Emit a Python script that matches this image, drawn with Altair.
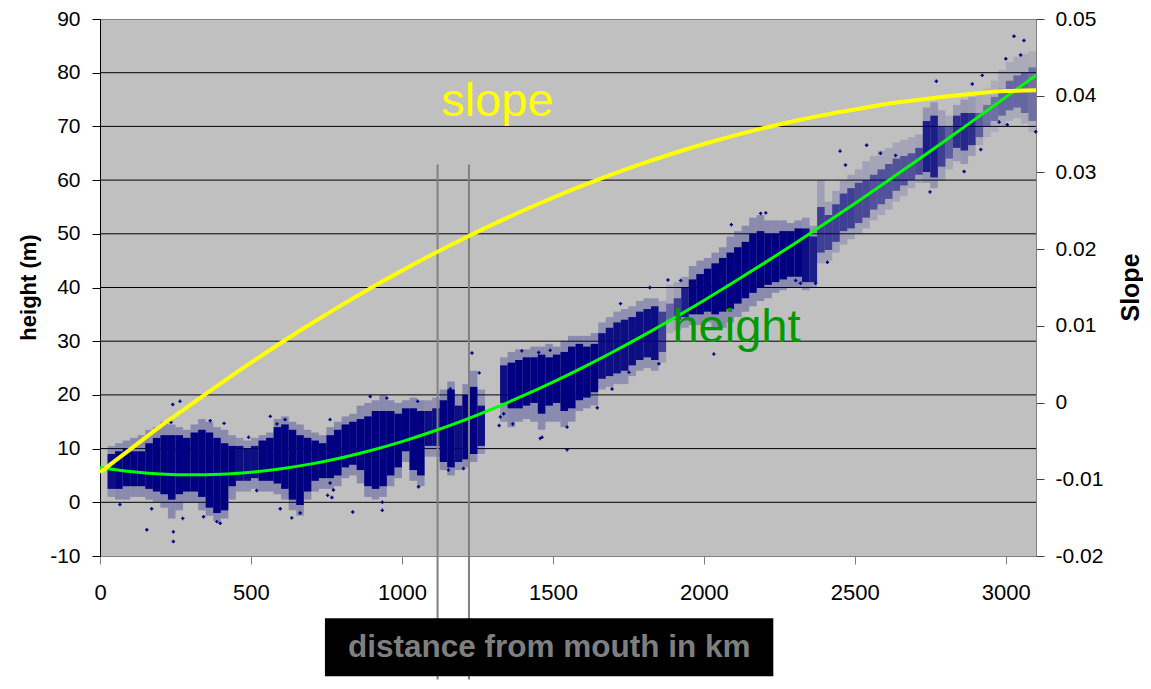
import altair as alt
import pandas as pd

FONT = "Liberation Sans"
NAVY = "#000080"

# ---- scatter cloud, read as 25-km bins (bin start in km) ----
bin_start = list(range(25, 3100, 25))
core_lo = [2.5, 2.5, 3.0, 3.0, 3.0, 2.5, 2.0, 1.5, 0.5, 1.5,
           2.0, 2.0, 1.0, -1.0, -2.0, -1.5, 3.0, 4.0, 4.0, 4.5,
           4.0, 4.0, 3.5, 2.5, 0.5, -0.5, 2.0, 4.0, 4.5, 4.5,
           5.0, 6.5, 7.0, 6.0, 3.0, 2.5, 3.0, 5.0, 6.5, 9.5,
           6.0, 5.0, 10.5, 10.5, 7.5, 6.5, 7.5, 8.0, 9.0, 10.5,
           None, None, 18.5, 17.5, 17.5, 18.0, 18.5, 16.5, 18.0, 18.5,
           17.0, 17.5, 19.0, 19.5, 20.5, 23.0, 23.5, 24.0, 24.5, 25.5,
           26.5, 27.0, 26.5, 28.0, 34.0, 34.0, 34.5, 35.0, 35.0, 35.5,
           35.0, 35.5, 36.0, 37.0, 38.0, 39.0, 40.0, 40.5, 41.0, 41.5,
           42.0, 42.0, 41.0, 41.0, 46.5, 47.0, 48.5, 50.5, 51.0, 52.0,
           53.0, 54.5, 55.5, 56.5, 58.0, 59.0, 60.0, 61.0, 61.5, 60.5,
           62.5, 64.0, 66.0, 65.5, 66.5, 68.0, 70.0, 71.0, 72.0, 73.0,
           73.5, 72.5, 71.0]
core_hi = [9.0, 9.5, 10.0, 9.5, 9.5, 11.0, 12.0, 12.5, 12.5, 12.5,
           12.0, 13.0, 13.5, 13.0, 12.0, 11.0, 10.5, 10.5, 10.0, 10.5,
           11.5, 12.0, 14.0, 14.5, 13.5, 12.5, 12.0, 11.5, 11.0, 12.5,
           13.5, 14.5, 15.0, 15.5, 16.0, 17.0, 17.0, 17.0, 16.5, 17.5,
           17.5, 17.0, 17.0, 17.5, 19.0, 21.0, 18.0, 20.0, 21.5, 18.0,
           None, None, 25.5, 26.0, 26.5, 27.0, 27.0, 27.5, 27.0, 27.5,
           28.0, 29.0, 29.5, 29.0, 29.5, 31.5, 32.5, 33.5, 34.0, 34.5,
           35.5, 36.0, 36.5, 35.5, 37.0, 38.0, 40.0, 41.5, 42.5, 43.5,
           44.5, 45.5, 46.5, 47.5, 48.5, 50.0, 50.5, 50.0, 50.0, 50.5,
           50.5, 51.0, 51.0, 49.5, 55.0, 53.5, 55.5, 57.5, 58.5, 59.5,
           60.0, 61.0, 62.0, 63.0, 64.0, 64.5, 65.0, 66.0, 71.0, 72.0,
           70.0, 70.0, 72.0, 72.5, 72.5, 72.5, 74.0, 75.5, 77.0, 78.5,
           79.5, 80.0, 81.0]
out_lo = [1.0, 0.5, 0.5, 1.0, 1.0, 0.5, 0.0, -1.0, -3.0, -1.5,
          0.0, 0.0, -1.5, -2.5, -3.5, -3.0, 0.5, 2.0, 2.0, 2.5,
          2.0, 2.0, 1.5, 0.5, -1.5, -2.5, 0.5, 2.0, 2.5, 2.5,
          3.0, 4.5, 5.0, 3.5, 1.0, 0.5, 1.0, 3.0, 4.5, 7.5,
          4.0, 3.0, 8.5, 8.5, 6.0, 5.0, 6.0, 6.5, 7.5, 9.0,
          None, None, 15.0, 14.0, 15.0, 15.5, 15.0, 13.5, 15.0, 15.0,
          14.0, 15.0, 17.0, 17.5, 18.0, 21.0, 21.5, 22.0, 22.0, 23.5,
          24.5, 25.0, 24.5, 26.0, 31.5, 32.0, 32.5, 33.0, 33.0, 33.5,
          32.5, 32.5, 33.5, 34.5, 35.5, 36.5, 37.5, 38.0, 39.0, 39.5,
          40.0, 40.0, 39.5, 40.0, 44.5, 45.0, 46.5, 48.0, 49.0, 50.0,
          51.0, 52.5, 53.5, 54.5, 56.0, 57.0, 58.5, 59.5, 59.5, 58.5,
          60.0, 62.0, 63.5, 63.0, 64.5, 66.5, 68.0, 69.0, 70.0, 71.0,
          71.5, 70.5, 69.0]
out_hi = [10.5, 11.0, 11.5, 12.0, 12.5, 13.5, 14.0, 15.0, 14.5, 14.0,
          13.5, 14.5, 15.5, 15.0, 14.0, 13.5, 12.5, 12.0, 11.5, 12.0,
          12.5, 13.0, 15.5, 16.0, 15.0, 14.5, 13.5, 13.0, 12.5, 14.0,
          15.0, 16.0, 16.5, 18.0, 18.5, 19.0, 20.0, 19.0, 18.5, 19.0,
          19.5, 19.0, 19.0, 19.5, 21.0, 22.5, 20.0, 22.0, 24.5, 21.0,
          None, None, 27.0, 28.0, 28.5, 28.5, 29.0, 29.0, 29.5, 29.0,
          30.0, 31.0, 31.0, 31.0, 31.5, 33.5, 34.5, 35.5, 36.0, 36.5,
          37.5, 38.0, 38.0, 37.5, 40.5, 41.0, 42.0, 44.0, 45.0, 45.5,
          46.5, 47.5, 49.5, 50.5, 51.5, 53.0, 53.5, 52.5, 52.5, 52.5,
          52.0, 52.5, 53.0, 51.5, 60.0, 56.0, 58.0, 60.0, 61.0, 62.0,
          63.5, 64.5, 65.5, 66.0, 67.0, 67.5, 68.0, 68.5, 73.5, 74.5,
          73.0, 72.0, 74.0, 75.0, 75.5, 76.0, 77.0, 78.5, 80.5, 82.0,
          83.0, 83.5, 84.0]
density = [0.9, 1, 1, 1, 1, 1, 1, 1, 1, 1,
           1, 1, 1, 1, 1, 1, 1, 0.9, 0.9, 0.9,
           1, 1, 1, 1, 1, 1, 1, 1, 1, 1,
           1, 1, 1, 1, 1, 1, 1, 1, 1, 1,
           1, 1, 0.9, 0.9, 1, 1, 0.9, 1, 1, 0.9,
           None, None, 0.9, 1, 1, 1, 1, 1, 1, 1,
           1, 1, 1, 1, 1, 0.9, 0.9, 0.9, 0.9, 0.9,
           0.9, 0.9, 0.9, 0.6, 0.4, 0.6, 0.8, 1, 1, 1,
           1, 1, 1, 1, 1, 1, 1, 1, 1, 1,
           1, 1, 0.9, 0.8, 0.6, 0.6, 0.6, 0.6, 0.6, 0.55,
           0.55, 0.5, 0.5, 0.5, 0.5, 0.5, 0.5, 0.55, 0.8, 0.8,
           0.6, 0.45, 0.7, 0.75, 0.7, 0.45, 0.35, 0.35, 0.4, 0.4,
           0.4, 0.4, 0.35]

# ---- isolated scatter points (km, height m) ----
pt_km = [241, 265, 235, 155, 243, 243, 171, 66, 343, 398, 365, 411, 564, 586,
         613, 762, 597, 635, 663, 754, 768, 274, 387, 492, 519,
         762, 837, 935, 935, 1232, 1256, 1160, 895, 950, 1052, 1322, 1326,
         1337, 1397, 1453, 1491, 1464, 1367, 1547, 1154, 1204, 1055, 773, 1458,
         1547, 1647, 1696, 1752, 1821, 1881, 1923, 2033, 2091, 2188, 2205,
         2304, 1851, 1724,
         3027, 3060, 3000, 3049, 2922, 2770, 2889, 2749, 2862, 2409, 2370,
         2320, 2469, 2451, 2539, 2585, 2635, 2978, 3099, 3005, 2917]
pt_h = [18.2, 18.8, 14.9, -5.1, -5.5, -7.3, -1.2, -0.4, -2.7, -3.9, 15.2, 14.7, 16.0, 14.6,
        15.4, 15.4, -1.2, -2.9, -2.0, 1.3, 0.9, -3.0, -3.6, 12.1, 2.2,
        3.6, -1.8, -1.5, 0.0, 27.8, 24.1, 21.1, 19.7, 19.4, 18.8, 14.3, 15.9,
        16.5, 28.2, 27.9, 28.3, 12.1, 14.6, 9.8, 6.0, 6.3, 2.9, 2.3, 11.9,
        14.0, 17.6, 21.1, 24.2, 40.0, 41.4, 41.3, 27.6, 51.7, 53.8, 53.9,
        41.3, 25.8, 37.0,
        86.8, 86.0, 82.6, 83.3, 79.5, 78.4, 77.9, 57.8, 61.6, 44.7, 40.8,
        40.8, 62.8, 65.4, 66.5, 65.0, 64.6, 70.8, 69.0, 70.3, 65.7]

# ---- fitted curves ----
fit_km = [0, 100, 200, 300, 400, 500, 600, 700, 800, 900, 1000, 1100, 1200, 1300,
          1400, 1500, 1600, 1700, 1800, 1900, 2000, 2100, 2200, 2300, 2400, 2500,
          2600, 2700, 2800, 2900, 3000, 3100]
height_fit = [6.5, 5.74, 5.28, 5.11, 5.22, 5.61, 6.26, 7.16, 8.31, 9.70, 11.31, 13.13,
              15.16, 17.39, 19.80, 22.38, 25.13, 28.04, 31.09, 34.27, 37.58, 41.01,
              44.54, 48.16, 51.87, 55.66, 59.51, 63.43, 67.39, 71.40, 75.45, 79.51]
slope_fit = [-0.0091, -0.0061, -0.0031, -0.0003, 0.0025, 0.0052, 0.0078, 0.0103,
             0.0127, 0.0150, 0.0172, 0.0193, 0.0213, 0.0232, 0.0250, 0.0267, 0.0283,
             0.0298, 0.0312, 0.0325, 0.0337, 0.0348, 0.0358, 0.0367, 0.0375, 0.0382,
             0.0389, 0.0394, 0.0399, 0.0403, 0.0406, 0.0407]

# ---- axes / annotations ----
x_ticks = [0, 500, 1000, 1500, 2000, 2500, 3000]
h_ticks = [-10, 0, 10, 20, 30, 40, 50, 60, 70, 80, 90]
h_grid = [0, 10, 20, 30, 40, 50, 60, 70, 80]
s_ticks = [-0.02, -0.01, 0, 0.01, 0.02, 0.03, 0.04, 0.05]
vline_km = [1118, 1222]
vline_top = [62.9, 62.9]
vline_bottom = [-33.0, -33.0]
labels_text = ["slope", "height"]
labels_km = [1316, 2108]
labels_h = [74.6, 32.5]
labels_color = ["#FFFF00", "#009900"]
box_km = [745, 2230]
box_h = [-21.6, -32.4]
xtitle = "distance from mouth in km"
xtitle_km = 1488
xtitle_h = -27.1

bins = pd.DataFrame({"s": bin_start, "clo": core_lo, "chi": core_hi,
                     "olo": out_lo, "ohi": out_hi, "dens": density}).dropna()
pts = pd.DataFrame({"km": pt_km, "h": pt_h})
fit = pd.DataFrame({"km": fit_km, "h": height_fit, "slope": slope_fit})
grid = pd.DataFrame({"h": h_grid})
vl = pd.DataFrame({"km": vline_km, "top": vline_top, "bot": vline_bottom})
lab = pd.DataFrame({"t": labels_text, "km": labels_km, "h": labels_h, "c": labels_color})
box = pd.DataFrame({"km": [box_km[0]], "km2": [box_km[1]], "h": [box_h[0]], "h2": [box_h[1]]})
xt = pd.DataFrame({"t": [xtitle], "km": [xtitle_km], "h": [xtitle_h]})

xs = alt.Scale(domain=[0, 3100], nice=False, zero=False)
hs = alt.Scale(domain=[-10, 90], nice=False, zero=False)
ss = alt.Scale(domain=[-0.02, 0.05], nice=False, zero=False)

X_AXIS = dict(values=x_ticks, orient="bottom", tickSize=8, tickColor="#808080",
              domainColor="#808080", labelFontSize=22, labelFont=FONT,
              labelColor="black", labelPadding=18, grid=False, title="",
              labelFlush=False, labelExpr="'' + datum.value")


def X(field):
    return alt.X(field, scale=xs, axis=alt.Axis(**X_AXIS))


gridl = alt.Chart(grid).mark_rule(color="black", strokeWidth=1).encode(
    y=alt.Y("h:Q", scale=hs, axis=None))

outer = alt.Chart(bins).transform_calculate(
    e="datum.s + 25", op="0.28 * datum.dens").mark_rect(color=NAVY).encode(
    x=X("s:Q"), x2="e:Q",
    y=alt.Y("olo:Q", scale=hs, axis=None), y2="ohi:Q",
    opacity=alt.Opacity("op:Q", scale=None))

core = alt.Chart(bins).transform_calculate(
    e="datum.s + 25").mark_rect(color=NAVY).encode(
    x=X("s:Q"), x2="e:Q",
    y=alt.Y("clo:Q", scale=hs, axis=None), y2="chi:Q",
    opacity=alt.Opacity("dens:Q", scale=None))

points = alt.Chart(pts).mark_point(shape="cross", filled=True, size=12, color=NAVY, opacity=1).encode(
    x=X("km:Q"),
    y=alt.Y("h:Q", scale=hs, axis=None))

vlines = alt.Chart(vl).mark_rule(color="#808080", strokeWidth=2).encode(
    x=X("km:Q"),
    y=alt.Y("top:Q", scale=hs, axis=None), y2="bot:Q")

green = alt.Chart(fit).mark_line(color="#00FF00", strokeWidth=3, interpolate="monotone").encode(
    x=X("km:Q"),
    y=alt.Y("h:Q", scale=hs, title="height (m)",
            axis=alt.Axis(values=h_ticks, orient="left", tickSize=8, tickColor="black",
                          domainColor="black", labelFontSize=21, labelFont=FONT, labelColor="black",
                          labelPadding=12, grid=False, labelExpr="'' + datum.value",
                          titleFont=FONT, titleFontSize=22, titleFontWeight="bold", titleColor="black",
                          titleX=-72, titleY=268, titleAngle=270, titleAlign="center",
                          titleBaseline="middle")))

texts = alt.Chart(lab).mark_text(font=FONT, fontSize=47, align="center", baseline="middle").encode(
    x=X("km:Q"),
    y=alt.Y("h:Q", scale=hs, axis=None),
    text="t:N", color=alt.Color("c:N", scale=None))

boxm = alt.Chart(box).mark_rect(color="black").encode(
    x=X("km:Q"), x2="km2:Q",
    y=alt.Y("h:Q", scale=hs, axis=None), y2="h2:Q")

xtm = alt.Chart(xt).mark_text(font=FONT, fontSize=31.5, fontWeight="bold", color="#7F7F7F",
                              align="center", baseline="middle").encode(
    x=X("km:Q"),
    y=alt.Y("h:Q", scale=hs, axis=None),
    text="t:N")

yellow = alt.Chart(fit).mark_line(color="#FFFF00", strokeWidth=4, interpolate="monotone").encode(
    x=X("km:Q"),
    y=alt.Y("slope:Q", scale=ss, title="Slope",
            axis=alt.Axis(values=s_ticks, orient="right", tickSize=8, tickColor="#404040",
                          domainColor="#808080", labelFontSize=21, labelFont=FONT,
                          labelColor="black", labelPadding=11, grid=False,
                          labelExpr="'' + datum.value",
                          titleFont=FONT, titleFontSize=25, titleFontWeight="bold",
                          titleColor="black", titleX=94, titleY=268, titleAngle=270,
                          titleAlign="center", titleBaseline="middle")))

chart = alt.layer(gridl, outer, core, points, vlines, green, texts, boxm, xtm, yellow).resolve_scale(
    y="independent").properties(
    width=936, height=537,
    padding={"left": 92, "top": 11, "right": 107, "bottom": 124},
    autosize=alt.AutoSizeParams(type="none"),
    background="white",
).configure_view(fill="#C0C0C0", stroke="#808080", strokeWidth=1)

chart.save("out.html", embed_options={"renderer": "svg", "actions": False})
